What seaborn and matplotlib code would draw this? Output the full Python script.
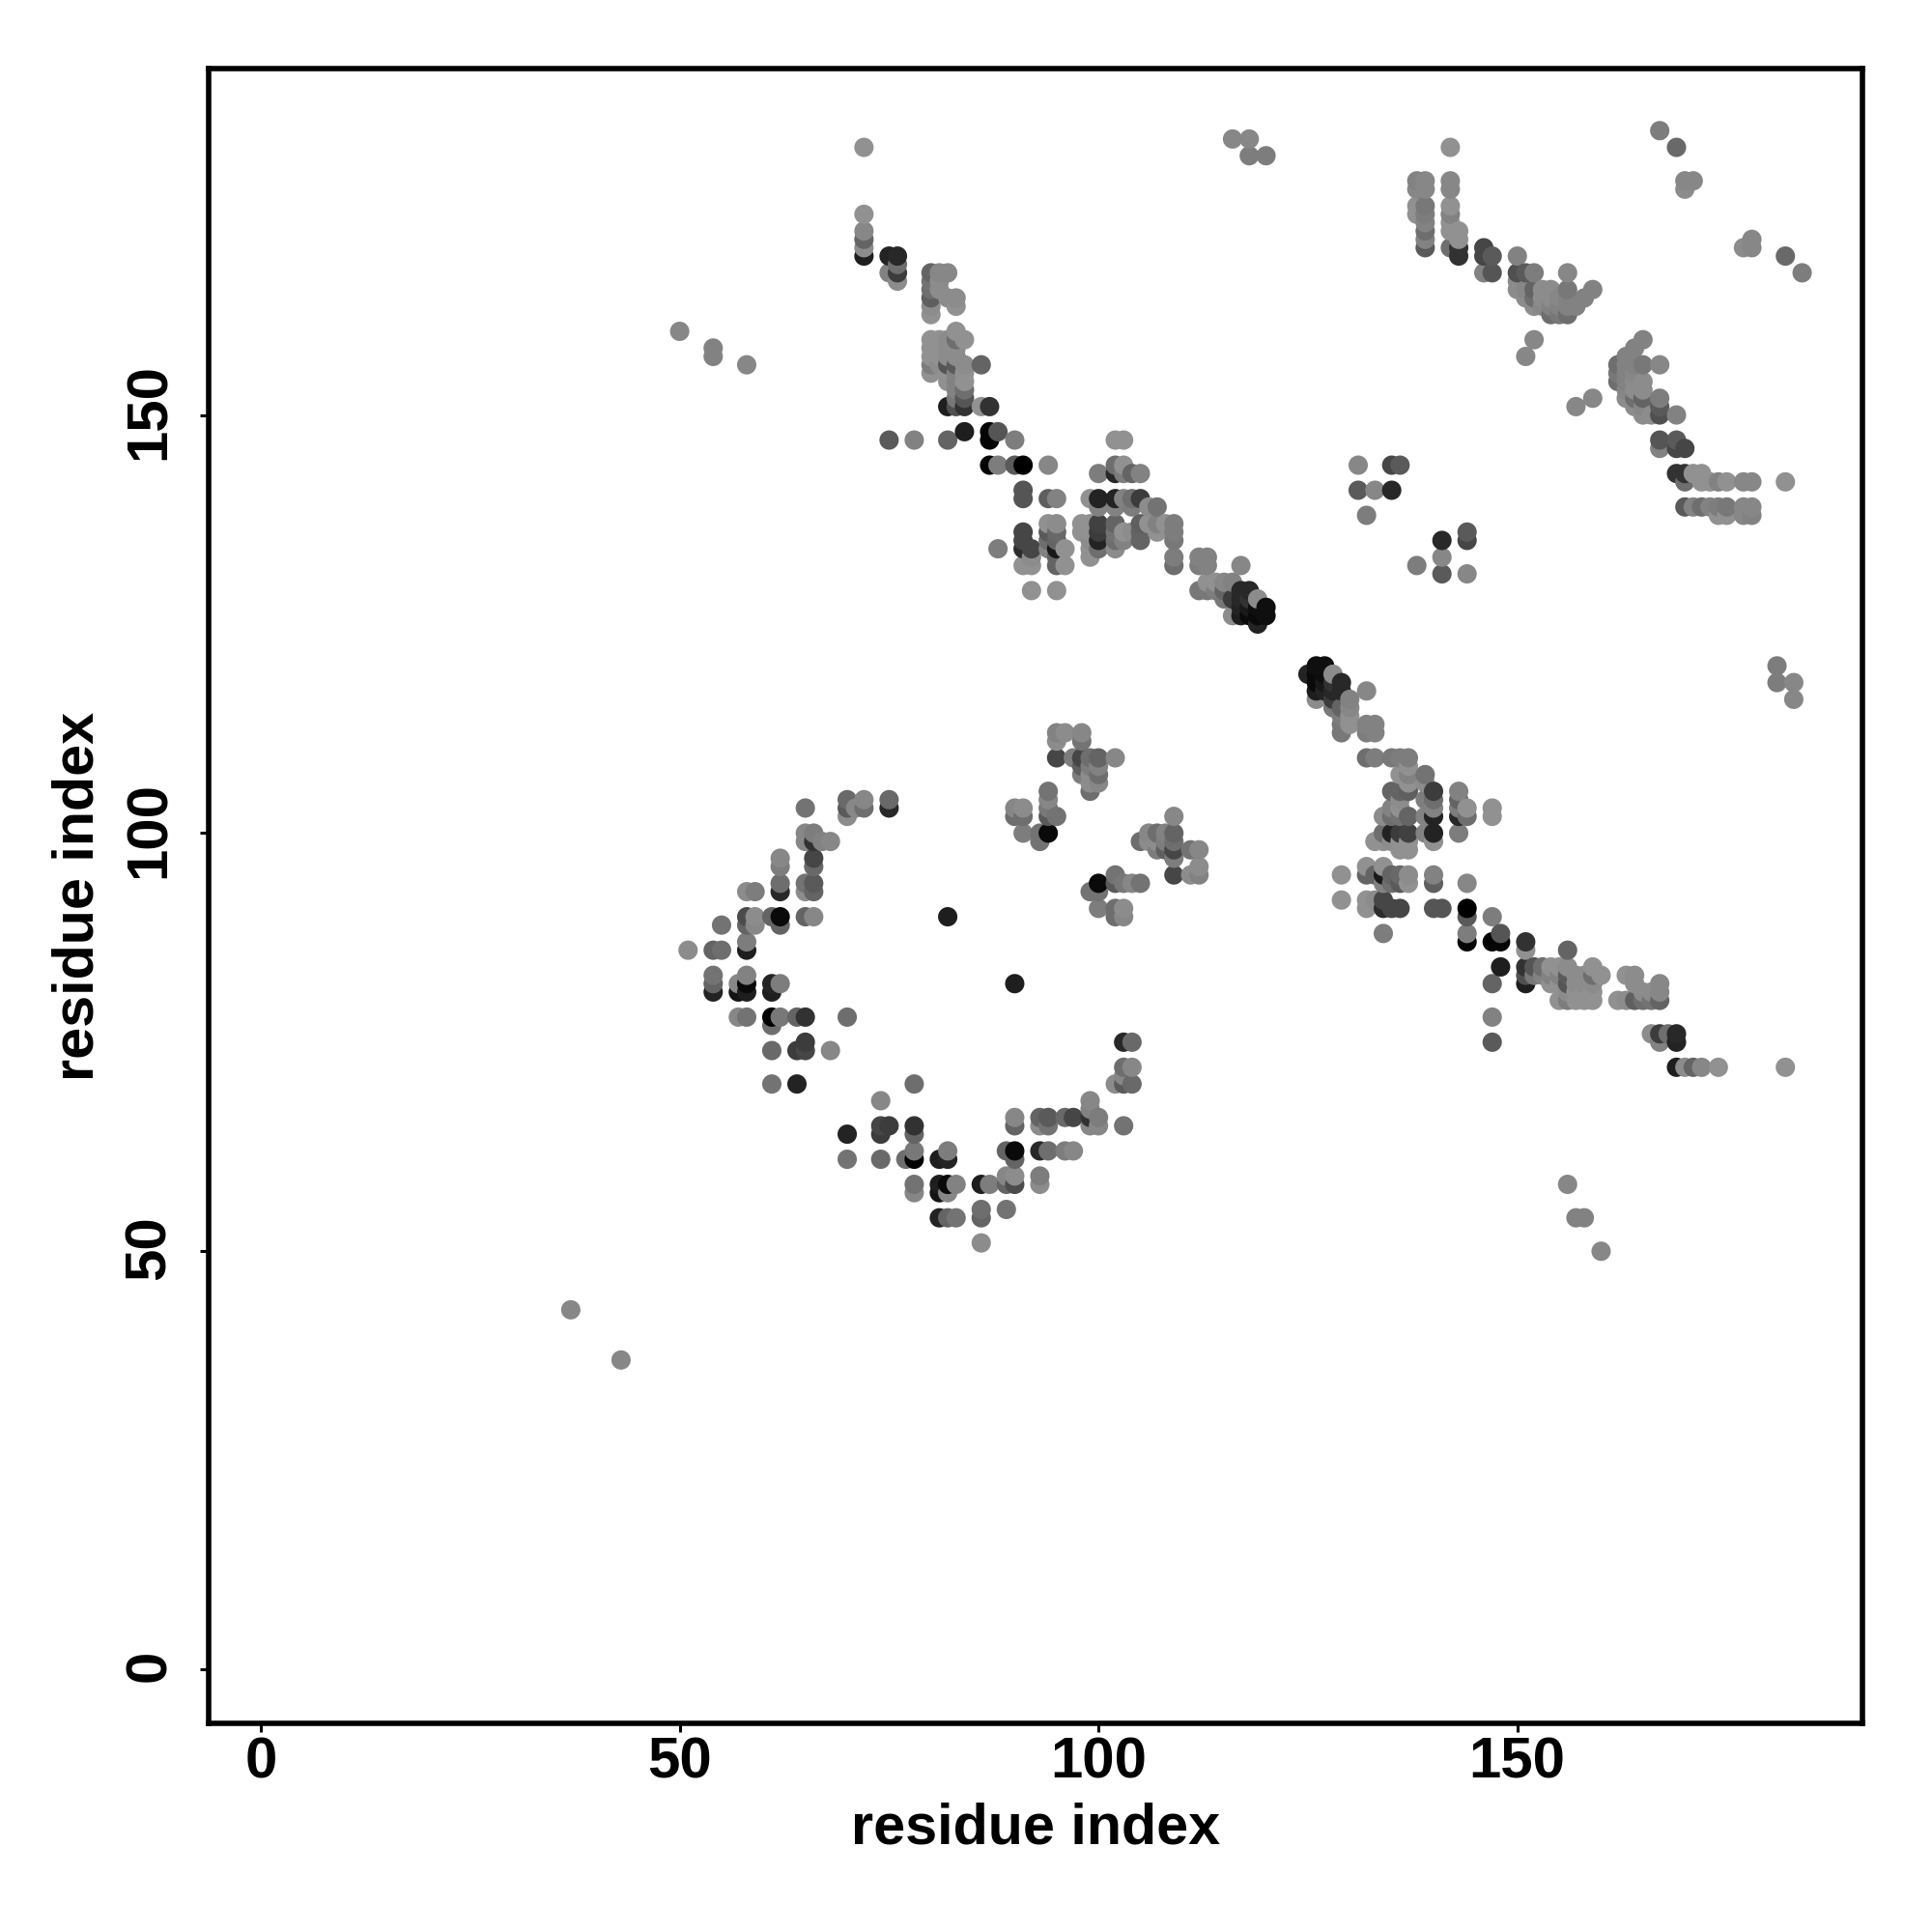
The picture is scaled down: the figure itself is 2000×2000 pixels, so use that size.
import pandas as pd
import seaborn as sns
import matplotlib.pyplot as plt
from matplotlib.transforms import ScaledTranslation

# contacts with i < j, the map is symmetric so the other half is the same table swapped
res_i = [37, 50, 51, 54, 55, 57, 58, 59, 61, 62, 64, 65, 66, 67, 68, 70, 71, 72, 75, 76,
         78, 80, 81, 82, 83, 84, 86, 87, 88, 90, 91, 92, 93, 94, 95, 96, 97, 98, 99, 100,
         102, 103, 104, 105, 106, 107, 108, 109, 112, 113, 114, 115, 116, 117, 118, 119, 120,
         126, 127, 128, 129, 130, 131, 132, 133, 135, 136, 138, 139, 142, 143, 146, 147,
         150, 151, 152, 153, 154, 155, 156, 157, 158, 159, 167, 169, 170, 171]

res_j = [
    [43], [160], [86], [158, 157, 86, 83, 82, 81], [89, 86], [82, 81, 78],
    [156, 93, 90, 89, 87, 86, 83, 82, 81, 78], [93, 90, 89],
    [90, 82, 81, 78, 77, 74, 70], [97, 96, 94, 93, 90, 89, 82, 78], [78, 74, 70],
    [103, 100, 99, 94, 93, 90, 78, 75, 74], [100, 99, 97, 96, 94, 93, 90], [99], [99, 74],
    [104, 103, 102, 78], [103], [182, 174, 172, 171, 170, 169, 104, 103],
    [169, 167, 147, 104, 103], [169, 168, 167, 166], [147],
    [167, 166, 165, 164, 163, 162, 159, 158, 157, 156, 155],
    [167, 166, 165, 159, 158, 157, 156],
    [167, 164, 159, 158, 157, 156, 155, 154, 151, 147, 90],
    [164, 163, 160, 159, 158, 157, 156, 155, 154, 153, 152, 151],
    [159, 156, 155, 154, 153, 152, 151, 148], [156, 151], [151, 148, 147, 144],
    [148, 144, 134], [147, 144, 103, 102],
    [144, 141, 140, 136, 135, 134, 132, 103, 102, 100], [134, 133, 132, 129], [100, 99],
    [144, 140, 137, 136, 135, 134, 105, 104, 103, 102, 100],
    [140, 137, 136, 135, 134, 133, 132, 129, 112, 111, 109, 102], [134, 132, 112], [109],
    [137, 136, 112, 111, 109, 108, 107],
    [140, 137, 136, 135, 134, 133, 109, 108, 107, 106, 105],
    [143, 140, 139, 137, 136, 135, 134, 109, 108, 107, 106],
    [147, 144, 143, 140, 139, 137, 136, 135, 134, 109], [147, 144, 143, 140, 136, 135],
    [143, 140, 139, 136], [143, 140, 137, 136, 135], [139, 137], [139, 137, 136], [137],
    [137, 136, 135, 133, 132], [133, 132, 129], [133, 132, 130, 129], [130, 129],
    [130, 129, 128], [183, 130, 128, 126], [132, 129, 128, 127, 126],
    [183, 181, 129, 128, 127, 126], [128, 127, 126, 125], [181, 127, 126],
    [], [], [], [], [], [144, 141], [138], [141], [144, 141], [144],
    [178, 177, 175, 174], [178, 177, 175, 174, 173, 172, 171, 170],
    [182, 178, 177, 175, 174, 173, 172, 170], [172, 171, 170, 169], [170, 169, 167],
    [169, 167], [169, 167, 166, 165], [167, 165, 164, 157], [167, 165, 164, 163, 159],
    [165, 164, 163], [165, 164, 163, 162], [164, 163, 162], [167, 165, 164, 163, 162],
    [163], [164], [165], [184], [182], [178, 177], [178],
]

grey = [
    [135], [135], [140], [130, 130, 100, 115, 100, 35], [115, 110], [135, 20, 135],
    [135, 140, 75, 100, 125, 30, 130, 10, 30, 115], [125, 140, 135],
    [100, 35, 30, 0, 110, 105, 115], [135, 125, 110, 40, 10, 100, 125, 120], [100, 60, 35],
    [115, 135, 135, 115, 140, 100, 50, 60, 70], [125, 50, 70, 105, 90, 100, 135], [130], [135, 135],
    [105, 90, 140, 110], [135], [145, 145, 135, 100, 140, 30, 135, 110],
    [35, 130, 90, 105, 40], [40, 110, 60, 140], [130],
    [100, 115, 110, 95, 140, 145, 145, 145, 145, 125, 145],
    [135, 140, 140, 145, 145, 145, 140],
    [135, 140, 140, 140, 140, 85, 145, 145, 30, 100, 30],
    [140, 145, 145, 110, 140, 140, 90, 130, 130, 130, 120, 80],
    [145, 140, 145, 145, 110, 85, 50, 30], [100, 145], [50, 5, 5, 5],
    [85, 125, 125], [125, 90, 135, 110],
    [0, 85, 85, 70, 70, 45, 145, 140, 110, 125], [70, 140, 145, 145], [115, 115],
    [135, 95, 145, 90, 110, 130, 115, 135, 120, 90, 10],
    [130, 140, 105, 100, 25, 100, 100, 145, 130, 140, 70, 115], [145, 145, 140], [125],
    [145, 145, 135, 115, 70, 95, 125],
    [145, 145, 145, 140, 145, 145, 110, 125, 140, 140, 110],
    [125, 35, 130, 65, 60, 35, 110, 100, 130, 110, 135],
    [145, 110, 40, 35, 130, 100, 115, 110, 140, 135], [145, 145, 125, 130, 145, 130],
    [100, 110, 125, 140], [130, 60, 95, 100, 100], [140, 145], [115, 130, 145], [145],
    [125, 125, 120, 125, 110], [130, 125, 120], [130, 130, 145, 120], [145, 125],
    [135, 100, 120], [135, 130, 60, 140], [135, 40, 40, 35, 30],
    [135, 125, 40, 50, 25, 10], [140, 15, 10, 35], [125, 15, 15],
    [], [], [], [], [], [135, 90], [125], [135], [70, 40], [90],
    [130, 135, 145, 145], [135, 135, 120, 125, 130, 110, 130, 90],
    [145, 135, 135, 145, 130, 145, 145, 110], [145, 145, 50, 50], [70, 70, 130],
    [90, 85], [130, 80, 140, 140], [90, 135, 140, 135], [125, 100, 110, 140, 135],
    [140, 140, 135], [140, 140, 130, 110], [135, 130, 120], [135, 120, 130, 130, 110],
    [130], [130], [130], [125], [105], [135, 140], [135],
]

tick_vals = [0, 50, 100, 150]
axis_label = "residue index"

half = pd.DataFrame({"i": res_i, "j": res_j, "grey": grey})
half = half.explode(["j", "grey"]).dropna().astype(int)
swapped = half.rename(columns={"i": "j", "j": "i"})
df = pd.concat([half, swapped]).sort_values(["i", "j"])

sns.set_style("white")
plt.rcParams["font.family"] = ["Liberation Sans", "DejaVu Sans"]
plt.rcParams["font.weight"] = "bold"

fig = plt.figure(figsize=(10, 10), dpi=200)
ax = fig.add_axes([0.108, 0.108, 0.856, 0.8565])

sns.scatterplot(data=df, x="i", y="j", hue="grey", palette="gray", hue_norm=(0, 255),
                s=52, linewidth=0, legend=False, ax=ax)

ax.set_xlim(-6.23, 191.2)
ax.set_ylim(-6.45, 191.42)
ax.set_xticks(tick_vals)
ax.set_yticks(tick_vals)
ax.tick_params(axis="both", direction="out", bottom=True, left=True, length=3.2, width=1.1,
               color="black", labelsize=21.6, labelcolor="black")
ax.tick_params(axis="x", pad=1.5)
ax.tick_params(axis="y", pad=8.7)
shift_up = ScaledTranslation(0, 1.4 / 72, fig.dpi_scale_trans)
for lab in ax.get_yticklabels():
    lab.set_rotation(90)
    lab.set_va("center")
    lab.set_transform(lab.get_transform() + shift_up)
ax.set_xlabel(axis_label, fontsize=21.4, fontweight="bold", color="black", labelpad=5)
ax.set_ylabel(axis_label, fontsize=21.4, fontweight="bold", color="black", labelpad=7)
for sp in ax.spines.values():
    sp.set_linewidth(2.0)
    sp.set_color("black")

plt.savefig("out.png", dpi=200)
